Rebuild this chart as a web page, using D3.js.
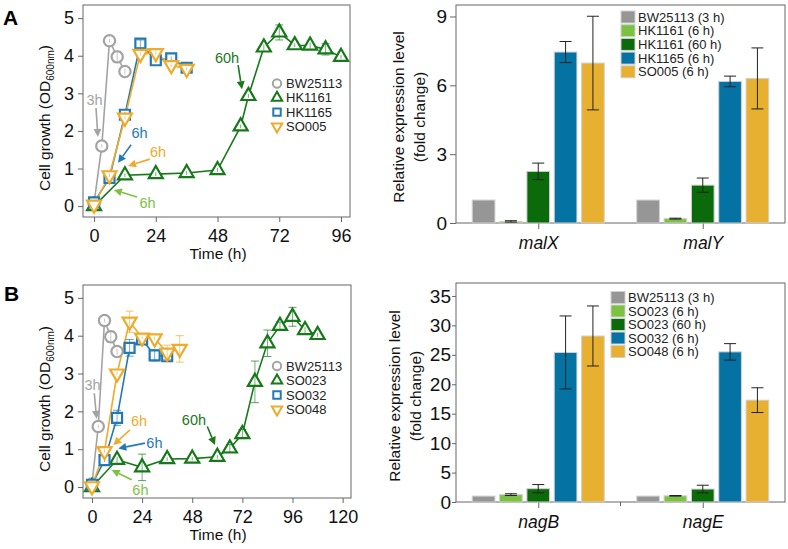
<!DOCTYPE html>
<html>
<head>
<meta charset="utf-8">
<script src="https://cdn.jsdelivr.net/npm/d3@7"></script>
<style>
  body { margin: 0; background: #fff; }
  svg { font-family: "Liberation Sans", Arial, sans-serif; }
</style>
</head>
<body>
<svg id="fig" width="788" height="549"></svg>
<script>
// ---- growth curves, panel A ----
const bwTime = [0, 3, 6, 9, 12];
const bwOD = [0.08, 1.6, 4.4, 3.97, 3.58];
const bwErr = [0.03, 0.05, 0.05, 0.15, 0.08];

const hk1161Time = [0, 12, 24, 36, 48, 57, 60, 66, 72, 78, 84, 90, 96];
const hk1161OD = [0, 0.82, 0.85, 0.88, 0.96, 2.12, 2.93, 4.22, 4.62, 4.28, 4.27, 4.17, 3.97];
const hk1161Err = [0.02, 0.05, 0.05, 0.05, 0.05, 0.05, 0.05, 0.08, 0.2, 0.05, 0.08, 0.15, 0.05];

const hk1165Time = [0, 6, 12, 18, 24, 30, 36];
const hk1165OD = [0.1, 0.75, 2.43, 4.32, 3.88, 3.93, 3.68];
const hk1165Err = [0.05, 0.05, 0.08, 0.1, 0.05, 0.05, 0.12];

const so005Time = [0, 6, 12, 18, 24, 30, 36];
const so005OD = [0.04, 0.82, 2.35, 4.05, 4.07, 3.75, 3.65];
const so005Err = [0.02, 0.05, 0.05, 0.05, 0.05, 0.05, 0.05];

// ---- growth curves, panel B ----
const so023Time = [0, 12, 24, 36, 48, 60, 66, 72, 78, 84, 90, 96, 102, 108];
const so023OD = [0, 0.72, 0.52, 0.74, 0.75, 0.8, 1.02, 1.4, 2.78, 3.8, 4.26, 4.5, 4.15, 4.02];
const so023Err = [0.02, 0.08, 0.35, 0.05, 0.05, 0.05, 0.1, 0.12, 0.55, 0.35, 0.1, 0.25, 0.08, 0.05];

const so032Time = [0, 6, 12, 18, 24, 30, 36];
const so032OD = [0.06, 0.71, 1.83, 3.68, 3.9, 3.48, 3.46];
const so032Err = [0.05, 0.05, 0.2, 0.22, 0.08, 0.15, 0.1];

const so048Time = [0, 6, 12, 18, 24, 30, 36, 42];
const so048OD = [0.02, 0.95, 3.0, 4.37, 3.95, 3.93, 3.55, 3.65];
const so048Err = [0.02, 0.05, 0.05, 0.28, 0.05, 0.05, 0.2, 0.35];

const growthTicksA = [0, 24, 48, 72, 96];
const growthTicksB = [0, 24, 48, 72, 96, 120];
const odTicks = [0, 1, 2, 3, 4, 5];

// ---- qRT-PCR bars ----
const genesA = ["malX", "malY"];
const barSeriesA = ["BW25113 (3 h)", "HK1161 (6 h)", "HK1161 (60 h)", "HK1165 (6 h)", "SO005 (6 h)"];
const malXLevel = [1.0, 0.07, 2.25, 7.45, 6.97];
const malXErr = [0, 0.03, 0.36, 0.46, 2.04];
const malYLevel = [1.0, 0.19, 1.65, 6.17, 6.3];
const malYErr = [0, 0.02, 0.31, 0.23, 1.33];
const levelTicksA = [0, 3, 6, 9];

const genesB = ["nagB", "nagE"];
const barSeriesB = ["BW25113 (3 h)", "SO023 (6 h)", "SO023 (60 h)", "SO032 (6 h)", "SO048 (6 h)"];
const nagBLevel = [1.0, 1.25, 2.26, 25.4, 28.2];
const nagBErr = [0, 0.15, 0.7, 6.2, 5.1];
const nagELevel = [1.0, 1.05, 2.2, 25.5, 17.3];
const nagEErr = [0, 0.05, 0.65, 1.4, 2.1];
const levelTicksB = [0, 5, 10, 15, 20, 25, 30, 35];

// colours
const cGray = "#a3a3a3", cGreen = "#17791a", cBlue = "#2479b5", cOrange = "#eeab2c", cLight = "#7cc242";
const barColors = ["#969696", "#7cc242", "#0b6b0b", "#0472a2", "#e8b031"];
const frameColor = "#666";

const svg = d3.select("#fig");

function zip(t, v, e) { return t.map((d, i) => ({ t: d, v: v[i], e: e[i] })); }

function arrow(g, x1, y1, x2, y2, color) {
  const a = Math.atan2(y2 - y1, x2 - x1);
  const hl = 8, hw = 4;
  const bx = x2 - hl * Math.cos(a), by = y2 - hl * Math.sin(a);
  g.append("line").attr("x1", x1).attr("y1", y1).attr("x2", bx).attr("y2", by)
    .attr("stroke", color).attr("stroke-width", 1.6);
  g.append("path")
    .attr("d", `M${x2},${y2}L${bx - hw * Math.sin(a)},${by + hw * Math.cos(a)}L${bx + hw * Math.sin(a)},${by - hw * Math.cos(a)}Z`)
    .attr("fill", color);
}

function markerPath(shape, size) {
  if (shape === "circle") return d3.symbol(d3.symbolCircle, size)();
  if (shape === "square") return d3.symbol(d3.symbolSquare, size)();
  return d3.symbol(d3.symbolTriangle, size)();
}

function drawGrowth(cfg) {
  const g = svg.append("g");
  const x = d3.scaleLinear().domain(cfg.xDomain).range([83, cfg.right]);
  const y = d3.scaleLinear().domain(cfg.yDomain).range([cfg.bottom, cfg.top]);

  g.append("rect").attr("x", 83).attr("y", cfg.top)
    .attr("width", cfg.right - 83).attr("height", cfg.bottom - cfg.top)
    .attr("fill", "none").attr("stroke", frameColor).attr("stroke-width", 1);

  const xAxis = g.append("g").attr("transform", `translate(0,${cfg.bottom})`)
    .call(d3.axisBottom(x).tickValues(cfg.xTicks).tickFormat(d3.format("d"))
      .tickSize(5).tickPadding(7).tickSizeOuter(0));
  const yAxis = g.append("g").attr("transform", "translate(83,0)")
    .call(d3.axisLeft(y).tickValues(odTicks).tickFormat(d3.format("d"))
      .tickSize(5).tickPadding(4).tickSizeOuter(0));
  [xAxis, yAxis].forEach(ax => {
    ax.select(".domain").remove();
    ax.selectAll("line").attr("stroke", frameColor);
    ax.selectAll("text").attr("font-size", 18).attr("fill", "#111").attr("font-family", null);
  });

  const line = d3.line().x(d => x(d.t)).y(d => y(d.v));
  cfg.series.forEach(s => {
    g.append("path").datum(s.data).attr("d", line)
      .attr("fill", "none").attr("stroke", s.color).attr("stroke-width", 1.6);
  });
  cfg.series.forEach(s => {
    const pts = g.selectAll(null).data(s.data).enter().append("g")
      .attr("transform", d => `translate(${x(d.t)},${y(d.v)})`);
    pts.append("path").attr("d", markerPath(s.shape, s.size))
      .attr("transform", s.flip ? "rotate(180)" : null)
      .attr("fill", "#fff").attr("stroke", s.color).attr("stroke-width", 2.2);
    pts.append("line").attr("x1", 0).attr("x2", 0)
      .attr("y1", d => y(d.v - d.e) - y(d.v)).attr("y2", d => y(d.v + d.e) - y(d.v))
      .attr("stroke", s.color).attr("stroke-opacity", 0.6).attr("stroke-width", 1);
    pts.filter(d => d.e > 0.09).selectAll("line.cap").data(d => [d.v - d.e, d.v + d.e].map(v => ({ v, base: d.v })))
      .enter().append("line").attr("class", "cap")
      .attr("x1", -4).attr("x2", 4)
      .attr("y1", d => y(d.v) - y(d.base)).attr("y2", d => y(d.v) - y(d.base))
      .attr("stroke", s.color).attr("stroke-opacity", 0.7).attr("stroke-width", 1);
  });

  // annotations
  cfg.notes.forEach(n => {
    g.append("text").attr("x", x(n.tx)).attr("y", y(n.ty)).attr("dy", "0.35em")
      .attr("text-anchor", "middle").attr("font-size", 14.5).attr("fill", n.color).text(n.label);
    arrow(g, x(n.from[0]), y(n.from[1]), x(n.to[0]), y(n.to[1]), n.color);
  });

  // legend
  cfg.series.forEach((s, i) => {
    const ly = cfg.legendY + i * cfg.legendStep;
    g.append("path").attr("d", markerPath(s.shape, s.size * 0.55))
      .attr("transform", `translate(277,${ly})` + (s.flip ? " rotate(180)" : ""))
      .attr("fill", "#fff").attr("stroke", s.color).attr("stroke-width", 2);
    g.append("text").attr("x", 286).attr("y", ly).attr("dy", "0.35em")
      .attr("font-size", 13).attr("fill", "#222").text(s.name);
  });

  // axis titles
  g.append("text").attr("x", 218).attr("y", cfg.bottom + 42)
    .attr("text-anchor", "middle").attr("font-size", 15.5).attr("fill", "#111").text("Time (h)");
  const yl = g.append("text")
    .attr("transform", `translate(50,${cfg.labelY}) rotate(-90)`)
    .attr("text-anchor", "middle").attr("font-size", 15.5).attr("fill", "#111");
  yl.append("tspan").text("Cell growth (OD");
  yl.append("tspan").attr("font-size", 10).attr("dy", 4).text("600nm");
  yl.append("tspan").attr("dy", -4).text(")");
}

function drawBars(cfg) {
  const g = svg.append("g");
  const left = 456, right = 785;
  const x0 = d3.scalePoint().domain(cfg.genes).range([left, right]).padding(0.5);
  const x1 = d3.scaleBand().domain(cfg.seriesNames).range([-66, 66]).paddingInner(0.17);
  const y = d3.scaleLinear().domain(cfg.yDomain).range([cfg.bottom, cfg.top]);

  g.append("rect").attr("x", left).attr("y", cfg.top)
    .attr("width", right - left).attr("height", cfg.bottom - cfg.top)
    .attr("fill", "none").attr("stroke", frameColor).attr("stroke-width", 1);

  const yAxis = g.append("g").attr("transform", `translate(${left},0)`)
    .call(d3.axisLeft(y).tickValues(cfg.ticks).tickSize(cfg.tickLen).tickPadding(cfg.tickPad).tickSizeOuter(0));
  yAxis.select(".domain").remove();
  yAxis.selectAll("line").attr("stroke", frameColor);
  yAxis.selectAll("text").attr("font-size", 19).attr("fill", "#111").attr("font-family", null);

  const xAxis = g.append("g").attr("transform", `translate(0,${cfg.bottom})`)
    .call(d3.axisBottom(x0).tickSize(6).tickPadding(8).tickSizeOuter(0));
  xAxis.select(".domain").remove();
  xAxis.selectAll("line").attr("stroke", frameColor);
  xAxis.selectAll("text").attr("font-size", 17.5).attr("font-style", "italic")
    .attr("fill", "#111").attr("font-family", null);
  if (cfg.midTick) {
    g.append("line").attr("x1", (left + right) / 2).attr("x2", (left + right) / 2)
      .attr("y1", cfg.bottom).attr("y2", cfg.bottom + 4).attr("stroke", frameColor);
  }

  cfg.genes.forEach((gene, gi) => {
    const vals = cfg.levels[gi], errs = cfg.errs[gi];
    const gg = g.append("g").attr("transform", `translate(${x0(gene)},0)`);
    const rows = cfg.seriesNames.map((s, i) => ({ s, v: vals[i], e: errs[i], i }));
    gg.selectAll("rect").data(rows).enter().append("rect")
      .attr("x", d => x1(d.s)).attr("width", x1.bandwidth())
      .attr("y", d => y(d.v)).attr("height", d => cfg.bottom - y(d.v))
      .attr("fill", d => barColors[d.i]).attr("stroke", "#d0d0d0").attr("stroke-width", 1);
    const eb = gg.selectAll("g.err").data(rows.filter(d => d.e > 0)).enter().append("g")
      .attr("transform", d => `translate(${x1(d.s) + x1.bandwidth() / 2},0)`);
    eb.append("line").attr("x1", 0).attr("x2", 0)
      .attr("y1", d => y(d.v - d.e)).attr("y2", d => y(d.v + d.e))
      .attr("stroke", "#222").attr("stroke-width", 1);
    eb.append("line").attr("x1", -6).attr("x2", 6)
      .attr("y1", d => y(d.v - d.e)).attr("y2", d => y(d.v - d.e))
      .attr("stroke", "#222").attr("stroke-width", 1);
    eb.append("line").attr("x1", -6).attr("x2", 6)
      .attr("y1", d => y(d.v + d.e)).attr("y2", d => y(d.v + d.e))
      .attr("stroke", "#222").attr("stroke-width", 1);
  });

  // legend
  cfg.seriesNames.forEach((s, i) => {
    const ly = cfg.legendY + i * cfg.legendStep;
    g.append("rect").attr("x", cfg.legendX).attr("y", ly - 6).attr("width", 14).attr("height", 12)
      .attr("fill", barColors[i]).attr("stroke", "#d0d0d0");
    g.append("text").attr("x", cfg.legendX + 17).attr("y", ly).attr("dy", "0.35em")
      .attr("font-size", 13).attr("fill", "#222").text(s);
  });

  const yl = g.append("text").attr("text-anchor", "middle").attr("font-size", 15.5).attr("fill", "#111")
    .attr("transform", `translate(${cfg.labelX},${cfg.labelY}) rotate(-90)`);
  yl.append("tspan").attr("x", 0).attr("y", 0).text("Relative expression level");
  yl.append("tspan").attr("x", 0).attr("y", 21).text("(fold change)");
}

// ---- panel A ----
drawGrowth({
  top: 5, bottom: 217, right: 350,
  xDomain: [-4.3, 99.5], yDomain: [-0.29, 5.35], xTicks: growthTicksA,
  legendY: 83.5, legendStep: 14.3, labelY: 118,
  series: [
    { name: "BW25113", color: cGray, shape: "circle", size: 100, data: zip(bwTime, bwOD, bwErr) },
    { name: "HK1161", color: cGreen, shape: "triangle", size: 85, data: zip(hk1161Time, hk1161OD, hk1161Err) },
    { name: "HK1165", color: cBlue, shape: "square", size: 100, data: zip(hk1165Time, hk1165OD, hk1165Err) },
    { name: "SO005", color: cOrange, shape: "triangle", flip: true, size: 85, data: zip(so005Time, so005OD, so005Err) }
  ],
  notes: [
    { label: "3h", color: cGray, tx: 0.2, ty: 2.82, from: [0.75, 2.61], to: [1.5, 1.84] },
    { label: "6h", color: cBlue, tx: 17.7, ty: 1.94, from: [14.4, 1.63], to: [9.3, 1.15] },
    { label: "6h", color: cOrange, tx: 24.9, ty: 1.44, from: [21.7, 1.25], to: [13.2, 1.07] },
    { label: "6h", color: cLight, tx: 20.8, ty: 0.08, from: [16.7, 0.24], to: [7.7, 0.43] },
    { label: "60h", color: cGreen, tx: 51.7, ty: 3.95, from: [56, 3.75], to: [57.5, 3.11] }
  ]
});

drawBars({
  top: 5, bottom: 223, yDomain: [0, 9.5], ticks: levelTicksA, tickLen: 6, tickPad: 3,
  genes: genesA, seriesNames: barSeriesA,
  levels: [malXLevel, malYLevel], errs: [malXErr, malYErr],
  legendX: 621, legendY: 17, legendStep: 13.7, labelX: 404, labelY: 117
});

// ---- panel B ----
drawGrowth({
  top: 285, bottom: 498, right: 351,
  xDomain: [-4.3, 124], yDomain: [-0.29, 5.34], xTicks: growthTicksB,
  legendY: 366, legendStep: 14.5, labelY: 399,
  series: [
    { name: "BW25113", color: cGray, shape: "circle", size: 100, data: zip(bwTime, bwOD, bwErr) },
    { name: "SO023", color: cGreen, shape: "triangle", size: 85, data: zip(so023Time, so023OD, so023Err) },
    { name: "SO032", color: cBlue, shape: "square", size: 100, data: zip(so032Time, so032OD, so032Err) },
    { name: "SO048", color: cOrange, shape: "triangle", flip: true, size: 85, data: zip(so048Time, so048OD, so048Err) }
  ],
  notes: [
    { label: "3h", color: cGray, tx: 0.24, ty: 2.7, from: [1.1, 2.48], to: [2.25, 1.8] },
    { label: "6h", color: cOrange, tx: 22.5, ty: 1.74, from: [18.2, 1.51], to: [10.2, 1.11] },
    { label: "6h", color: cBlue, tx: 29.9, ty: 1.16, from: [25.4, 1.16], to: [12.6, 1.02] },
    { label: "6h", color: cLight, tx: 23.2, ty: -0.08, from: [19, 0.19], to: [9.4, 0.45] },
    { label: "60h", color: cGreen, tx: 48.8, ty: 1.77, from: [55.2, 1.6], to: [58.9, 1.11] }
  ]
});

drawBars({
  top: 283, bottom: 502, yDomain: [0, 37.2], ticks: levelTicksB, tickLen: 4, tickPad: 1, midTick: true,
  genes: genesB, seriesNames: barSeriesB,
  levels: [nagBLevel, nagELevel], errs: [nagBErr, nagEErr],
  legendX: 611, legendY: 297.5, legendStep: 13.5, labelX: 400, labelY: 396
});

// panel letters
svg.append("text").attr("x", 3).attr("y", 25).attr("font-size", 21).attr("font-weight", "bold").text("A");
svg.append("text").attr("x", 4).attr("y", 301).attr("font-size", 21).attr("font-weight", "bold").text("B");
</script>
</body>
</html>
